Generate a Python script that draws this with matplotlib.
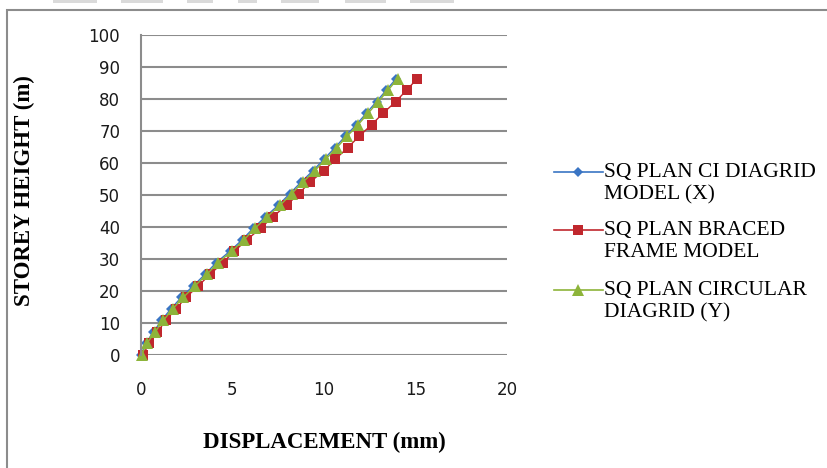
import matplotlib.pyplot as plt
from matplotlib.lines import Line2D
from matplotlib.patches import Rectangle

# storey heights (m) and displacements (mm)
height = [0, 3.6, 7.2, 10.8, 14.4, 18, 21.6, 25.2, 28.8, 32.4, 36, 39.6, 43.2,
          46.8, 50.4, 54, 57.6, 61.2, 64.8, 68.4, 72, 75.6, 79.2, 82.8, 86.4]
disp_ci_x = [0.0, 0.25, 0.68, 1.12, 1.63, 2.2, 2.85, 3.5, 4.1, 4.85, 5.53, 6.13, 6.8,
             7.5, 8.13, 8.74, 9.4, 10.0, 10.6, 11.17, 11.77, 12.32, 12.87, 13.41, 13.95]
disp_braced = [0.1, 0.45, 0.9, 1.35, 1.91, 2.46, 3.13, 3.77, 4.46, 5.1, 5.78, 6.54, 7.2,
               7.96, 8.62, 9.23, 10.0, 10.62, 11.3, 11.93, 12.6, 13.24, 13.92, 14.52, 15.1]
disp_circ_y = [0.03, 0.32, 0.77, 1.22, 1.73, 2.31, 2.95, 3.6, 4.2, 4.95, 5.63, 6.23, 6.9,
               7.6, 8.23, 8.84, 9.5, 10.1, 10.7, 11.27, 11.87, 12.42, 12.97, 13.51, 14.03]

labels = ['SQ PLAN CI DIAGRID\nMODEL (X)',
          'SQ PLAN BRACED\nFRAME MODEL',
          'SQ PLAN CIRCULAR\nDIAGRID (Y)']
colors = ['#3A75C4', '#C0272D', '#8DB43A']
markers = ['D', 's', '^']
msizes = [5, 6.5, 9]
series = [disp_ci_x, disp_braced, disp_circ_y]

W, H = 828, 468
fig = plt.figure(figsize=(W / 100, H / 100), dpi=100)
ax = fig.add_axes([141 / W, 1 - 355 / H, (507 - 141) / W, (355 - 35) / H])

for xs, c, m, ms in zip(series, colors, markers, msizes):
    ax.plot(xs, height, color=c, marker=m, markersize=ms, linewidth=1.0,
            markeredgewidth=0, clip_on=False)

ax.set_xlim(0, 20)
ax.set_ylim(0, 100)
ax.set_xticks([0, 5, 10, 15, 20])
ax.set_yticks(range(0, 101, 10))
ax.grid(axis='y', color='#8C8C8C', linewidth=1.5)
ax.set_axisbelow(True)
for s in ['top', 'right', 'bottom']:
    ax.spines[s].set_visible(False)
ax.spines['left'].set_color('#8C8C8C')
ax.spines['left'].set_linewidth(1.5)
ax.tick_params(length=0, labelsize=12, labelcolor='#1A1A1A')
ax.tick_params(axis='x', pad=19)
ax.tick_params(axis='y', pad=15)

ax.set_xlabel('DISPLACEMENT (mm)', family='Liberation Serif', fontweight='bold',
              fontsize=16.5)
ax.xaxis.set_label_coords(0.5, -(432 - 355) / 320, transform=ax.transAxes)
ax.set_ylabel('STOREY HEIGHT (m)', family='Liberation Serif', fontweight='bold',
              fontsize=16.5)
ax.yaxis.set_label_coords(-(141 - 35) / 366, 0.515, transform=ax.transAxes)

# legend drawn by hand so the marker sits on the first text line
leg_y = [172, 230, 290]
for y, c, m, ms, lab in zip(leg_y, colors, markers, msizes, labels):
    fig.add_artist(Line2D([554 / W, 603 / W], [1 - y / H, 1 - y / H], color=c,
                          linewidth=1.2, transform=fig.transFigure))
    fig.add_artist(Line2D([578 / W], [1 - y / H], color=c, marker=m, markersize=ms,
                          markeredgewidth=0, transform=fig.transFigure))
    fig.text(604 / W, 1 - (y - 9) / H, lab, family='Liberation Serif', fontsize=15.5,
             va='top', ha='left', linespacing=1.2)

# chart frame
fig.add_artist(Rectangle((7 / W, -0.05), 1.2, 1 - 10 / H + 0.05, fill=False,
                         edgecolor='#8C8C8C', linewidth=1.5, transform=fig.transFigure))
# faint strips from the page above
for x0, x1 in [(53, 97), (121, 163), (187, 213), (238, 257), (281, 319), (345, 386), (410, 454)]:
    fig.add_artist(Rectangle((x0 / W, 1 - 3 / H), (x1 - x0) / W, 3 / H, color='#DADADA',
                             linewidth=0, transform=fig.transFigure))

plt.savefig('out.png', dpi=100)
